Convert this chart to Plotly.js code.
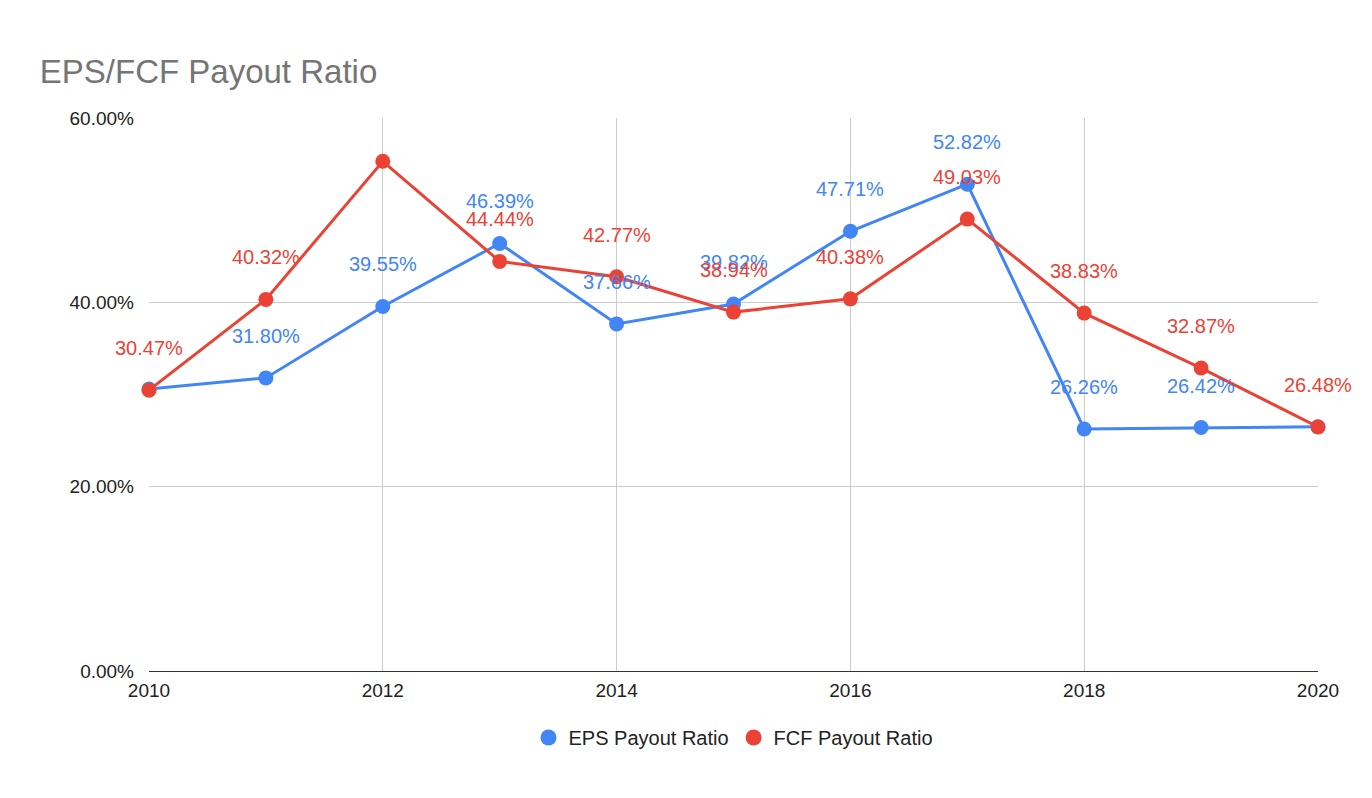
<!DOCTYPE html>
<html>
<head>
<meta charset="utf-8">
<script src="https://cdn.plot.ly/plotly-3.0.1.min.js"></script>
<style>body{margin:0;background:#fff}#graph{width:1372px;height:798px}</style>
</head>
<body>
<div id="graph"></div>
<script>
let years = [2010, 2011, 2012, 2013, 2014, 2015, 2016, 2017, 2018, 2019, 2020];
let eps = [30.6, 31.80, 39.55, 46.39, 37.66, 39.82, 47.71, 52.82, 26.26, 26.42, 26.5];
let fcf = [30.47, 40.32, 55.3, 44.44, 42.77, 38.94, 40.38, 49.03, 38.83, 32.87, 26.48];
let epsShow = [false, true, true, true, true, true, true, true, true, true, false];
let fcfShow = [true, true, false, true, true, true, true, true, true, true, true];

let blue = '#4285f4';
let red = '#ea4335';

var mkTrace = function(y, name, color){
	return {
		x : years, y : y, name : name, showlegend : false,
		mode : 'lines+markers', type : 'scatter',
		line : {color : color, width : 3},
		marker : {color : color, size : 15},
		cliponaxis : false
	}
}
//legend entries: circles only
var mkLegend = function(name, color){
	return {x : [null], y : [null], name : name, mode : 'markers', type : 'scatter',
		marker : {color : color, size : 22}}
}

var annotations = [];
var addLabels = function(y, show, color){
	for(let i = 0; i < years.length; i++){
		if(!show[i]) continue;
		annotations.push({x : years[i], y : y[i], text : y[i].toFixed(2) + '%',
			showarrow : false, yshift : 42, font : {color : color, size : 20}});
	}
}
addLabels(eps, epsShow, blue);
addLabels(fcf, fcfShow, red);

var layout = {
	font : {family : 'Liberation Sans, Arial, sans-serif', size : 19, color : '#222'},
	title : {text : 'EPS/FCF Payout Ratio', x : 0.029, xanchor : 'left', y : 0.925,
		font : {size : 33, color : '#757575'}},
	margin : {l : 149, r : 54, t : 118, b : 127},
	showlegend : true,
	legend : {orientation : 'h', x : 0.5, xanchor : 'center', y : -0.085, yanchor : 'top',
		font : {size : 20}, itemsizing : 'trace'},
	annotations : annotations,
	xaxis : {range : [2010, 2020], tickvals : [2010, 2012, 2014, 2016, 2018, 2020],
		showgrid : true, gridcolor : '#ccc', zeroline : false, showline : false,
		ticks : '', ticklabelstandoff : 6},
	yaxis : {range : [0, 60], tickvals : [0, 20, 40, 60],
		ticktext : ['0.00%', '20.00%', '40.00%', '60.00%'],
		gridcolor : '#ccc', zeroline : true, zerolinecolor : '#333', zerolinewidth : 1,
		ticks : '', ticklabelstandoff : 14},
	plot_bgcolor : '#fff', paper_bgcolor : '#fff'
}
Plotly.newPlot('graph', [mkTrace(eps, 'EPS Payout Ratio', blue), mkTrace(fcf, 'FCF Payout Ratio', red),
	mkLegend('EPS Payout Ratio', blue), mkLegend('FCF Payout Ratio', red)], layout, {displayModeBar : false});
</script>
</body>
</html>
